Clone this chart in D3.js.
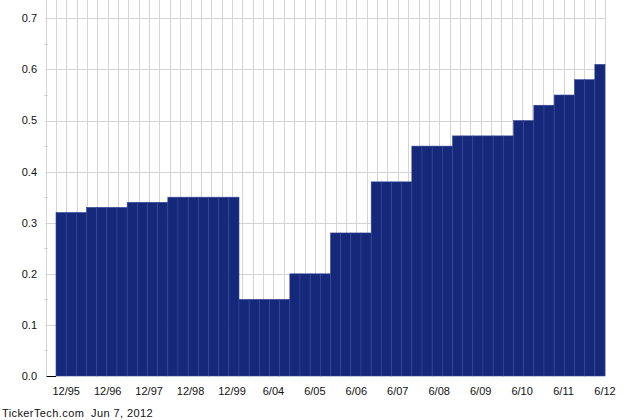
<!DOCTYPE html>
<html>
<head>
<meta charset="utf-8">
<script src="https://cdn.jsdelivr.net/npm/d3@7"></script>
<style>
  body { margin: 0; background: #fff; }
  text { font-family: "Liberation Sans", Arial, sans-serif; }
</style>
</head>
<body>
<div id="chart"></div>
<script>
// Size constants
var totWidth = 640,
    totHeight = 420;

// Data: quarterly dividend bars
var barValues = [
  0.32, 0.32, 0.32,
  0.33, 0.33, 0.33, 0.33,
  0.34, 0.34, 0.34, 0.34,
  0.35, 0.35, 0.35, 0.35, 0.35, 0.35, 0.35,
  0.15, 0.15, 0.15, 0.15, 0.15,
  0.20, 0.20, 0.20, 0.20,
  0.28, 0.28, 0.28, 0.28,
  0.38, 0.38, 0.38, 0.38,
  0.45, 0.45, 0.45, 0.45,
  0.47, 0.47, 0.47, 0.47, 0.47, 0.47,
  0.50, 0.50,
  0.53, 0.53,
  0.55, 0.55,
  0.58, 0.58,
  0.61
];
var xLabels = ["12/95", "12/96", "12/97", "12/98", "12/99", "6/04", "6/05",
               "6/06", "6/07", "6/08", "6/09", "6/10", "6/11", "6/12"];
var yTicks = [0.0, 0.1, 0.2, 0.3, 0.4, 0.5, 0.6, 0.7];
var yMinorTicks = [0.05, 0.15, 0.25, 0.35, 0.45, 0.55, 0.65];
var footerText = "TickerTech.com  Jun 7, 2012";

var nSlots = 54;

var svg = d3.select("#chart")
  .append("svg")
    .attr("width", totWidth)
    .attr("height", totHeight);

// scales
var xGrid = d3.scaleLinear()
  .domain([0, nSlots])
  .range([45.5, 605]);

var xBar = d3.scaleBand()
  .domain(d3.range(barValues.length))
  .range([56, 605])
  .padding(0);

var y = d3.scaleLinear()
  .domain([0, 0.736])
  .range([376, 0]);

// vertical gridlines
svg.append("g")
  .selectAll("line")
  .data(d3.range(nSlots + 1))
  .enter()
  .append("line")
    .attr("x1", function(d) { return Math.round(xGrid(d)) + 0.5; })
    .attr("x2", function(d) { return Math.round(xGrid(d)) + 0.5; })
    .attr("y1", 0)
    .attr("y2", y(0))
    .attr("stroke", "#d4d4d4")
    .attr("stroke-width", 1);

// horizontal gridlines
svg.append("g")
  .selectAll("line")
  .data(yTicks.slice(1))
  .enter()
  .append("line")
    .attr("x1", xGrid(0))
    .attr("x2", xGrid(nSlots))
    .attr("y1", function(d) { return Math.round(y(d)) + 0.5; })
    .attr("y2", function(d) { return Math.round(y(d)) + 0.5; })
    .attr("stroke", "#d4d4d4")
    .attr("stroke-width", 1);

// minor ticks on the left
svg.append("g")
  .selectAll("line")
  .data(yMinorTicks)
  .enter()
  .append("line")
    .attr("x1", xGrid(0) - 1)
    .attr("x2", xGrid(0) + 2)
    .attr("y1", function(d) { return Math.round(y(d)) + 0.5; })
    .attr("y2", function(d) { return Math.round(y(d)) + 0.5; })
    .attr("stroke", "#c8c8c8");

// bars
svg.append("g")
  .selectAll("rect")
  .data(barValues)
  .enter()
  .append("rect")
    .attr("x", function(d, i) { return xBar(i); })
    .attr("y", function(d) { return y(d); })
    .attr("width", xBar.bandwidth())
    .attr("height", function(d) { return y(0) - y(d); })
    .attr("fill", "#15287a")
    .attr("stroke", "#34489a")
    .attr("stroke-width", 0.6);

// zero tick
svg.append("line")
  .attr("x1", xGrid(0) + 1)
  .attr("x2", xBar(0))
  .attr("y1", y(0) + 0.5)
  .attr("y2", y(0) + 0.5)
  .attr("stroke", "#000")
  .attr("stroke-width", 1);

// y labels
svg.append("g")
  .selectAll("text")
  .data(yTicks)
  .enter()
  .append("text")
    .attr("x", 37)
    .attr("y", function(d) { return y(d); })
    .attr("dy", "0.35em")
    .attr("text-anchor", "end")
    .attr("font-size", "11px")
    .attr("fill", "#111")
    .text(function(d) { return d3.format(".1f")(d); });

// x labels
svg.append("g")
  .selectAll("text")
  .data(xLabels)
  .enter()
  .append("text")
    .attr("x", function(d, i) { return xGrid(2 + 4 * i); })
    .attr("y", 395)
    .attr("text-anchor", "middle")
    .attr("font-size", "11px")
    .attr("fill", "#111")
    .text(function(d) { return d; });

// footer
svg.append("text")
  .attr("x", 2)
  .attr("y", 417)
  .attr("font-size", "11px")
  .attr("letter-spacing", "0.4px")
  .attr("fill", "#111")
  .style("white-space", "pre")
  .text(footerText);
</script>
</body>
</html>
